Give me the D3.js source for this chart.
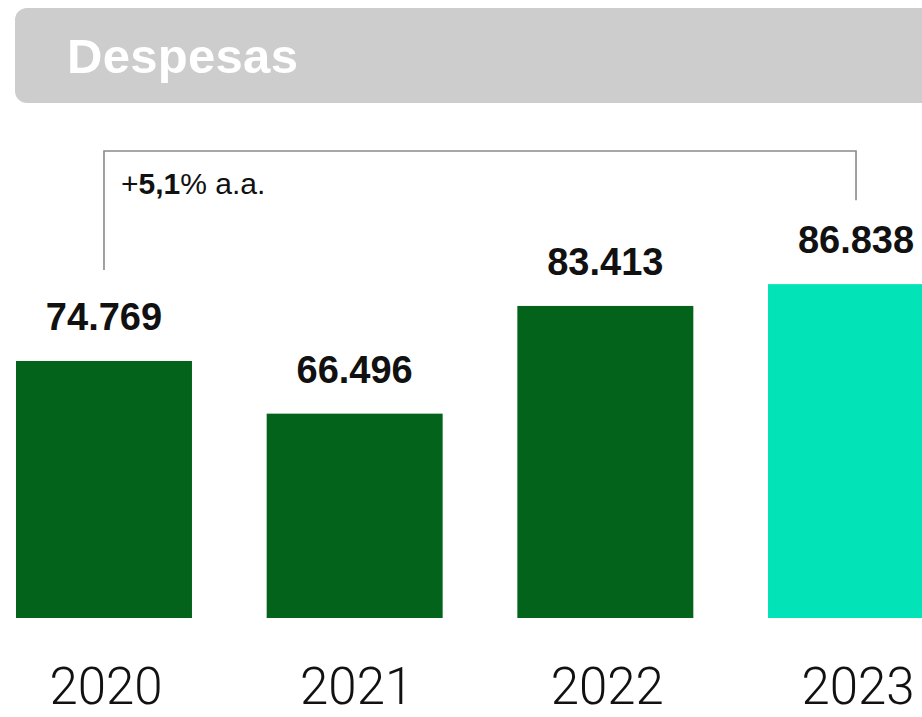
<!DOCTYPE html>
<html>
<head>
<meta charset="utf-8">
<script src="https://cdn.jsdelivr.net/npm/d3@7"></script>
<style>
  html, body { margin: 0; padding: 0; background: #fff; }
  svg { display: block; }
</style>
</head>
<body>
<div id="chart"></div>
<script>
// data
const years = ['2020', '2021', '2022', '2023'];
const values = [74.769, 66.496, 83.413, 86.838];
const valueLabels = ['74.769', '66.496', '83.413', '86.838'];
const highlight = [false, false, false, true];
const title = 'Despesas';
const growthBold = '5,1';

const width = 922;
const height = 717;
const green = '#04631a';
const teal = '#02e3b8';

const svg = d3.select('#chart')
    .append('svg')
    .attr('width', width)
    .attr('height', height)
    .attr('viewBox', `0,0,${width},${height}`);

// header bar
svg.append('rect')
    .attr('x', 15)
    .attr('y', 8)
    .attr('width', 940)
    .attr('height', 95)
    .attr('rx', 12)
    .style('fill', '#cdcdcd');

svg.append('text')
    .attr('x', 67)
    .attr('y', 73)
    .style('font-family', '"Liberation Sans", Arial, sans-serif')
    .style('font-weight', 'bold')
    .style('font-size', '49px')
    .style('letter-spacing', '0.3px')
    .style('fill', '#fff')
    .text(title);

// scales
const x = d3.scaleBand()
    .domain(years)
    .range([16, 944])
    .paddingInner(0.298)
    .paddingOuter(0);

const y = d3.scaleLinear()
    .domain([34.4, 90])
    .range([618, 264]);

const g = svg.append('g');

// bars
g.selectAll('rect.bar')
    .data(years)
    .enter()
    .append('rect')
    .attr('class', 'bar')
    .attr('x', d => x(d))
    .attr('y', (d, i) => y(values[i]))
    .attr('width', x.bandwidth())
    .attr('height', (d, i) => y.range()[0] - y(values[i]))
    .style('fill', (d, i) => highlight[i] ? teal : green);

// value labels
g.selectAll('text.value')
    .data(years)
    .enter()
    .append('text')
    .attr('class', 'value')
    .attr('x', d => x(d) + x.bandwidth() / 2)
    .attr('y', (d, i) => y(values[i]) - 31)
    .attr('text-anchor', 'middle')
    .style('font-family', '"Liberation Sans", Arial, sans-serif')
    .style('font-weight', 'bold')
    .style('font-size', '38px')
    .style('fill', '#111')
    .text((d, i) => valueLabels[i]);

// year labels
g.selectAll('text.year')
    .data(years)
    .enter()
    .append('text')
    .attr('class', 'year')
    .attr('x', d => x(d) + x.bandwidth() / 2 + 2)
    .attr('y', 704)
    .attr('text-anchor', 'middle')
    .style('font-family', 'Roboto, Lato, sans-serif')
    .style('font-weight', 300)
    .style('font-size', '51px')
    .style('fill', '#111')
    .text(d => d);

// growth bracket between first and last bar
const first = years[0], last = years[years.length - 1];
const bx1 = x(first) + x.bandwidth() / 2;
const bx2 = x(last) + x.bandwidth() / 2;
const bTop = 151;
g.append('path')
    .attr('d', d3.line()([
        [bx1, y(values[0]) - 91],
        [bx1, bTop],
        [bx2, bTop],
        [bx2, y(values[values.length - 1]) - 84]
    ]))
    .style('fill', 'none')
    .style('stroke', '#8a8a8a')
    .style('stroke-width', 1.6);

const gt = g.append('text')
    .attr('x', 121)
    .attr('y', 194)
    .style('font-family', '"Liberation Sans", Arial, sans-serif')
    .style('font-size', '30px')
    .style('fill', '#111');
gt.append('tspan').text('+');
gt.append('tspan').style('font-weight', 'bold').text(growthBold);
gt.append('tspan').text('% a.a.');
</script>
</body>
</html>
